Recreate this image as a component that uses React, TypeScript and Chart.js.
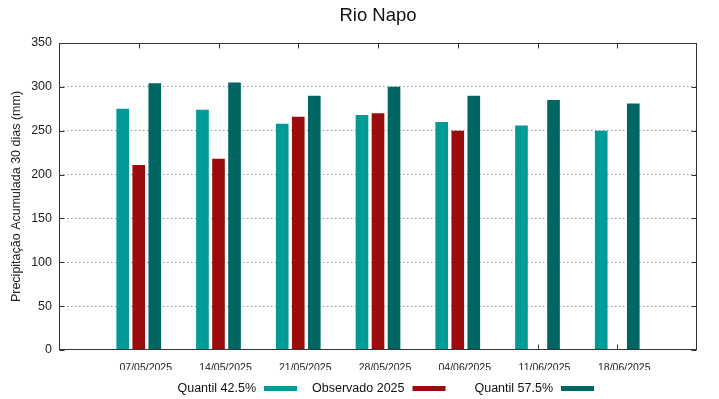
import { useEffect, useRef } from 'react';
import { Chart, registerables } from 'chart.js';

Chart.register(...registerables);

const chartTitle = 'Rio Napo';
const yAxisTitle = 'Precipitação Acumulada 30 dias (mm)';
const categories = ['07/05/2025', '14/05/2025', '21/05/2025', '28/05/2025', '04/06/2025', '11/06/2025', '18/06/2025'];
const quantil425 = [275, 274, 258, 268, 260, 256, 250];
const observado2025 = [211, 218, 266, 270, 250, null, null];
const quantil575 = [304, 305, 290, 300, 290, 285, 281];
const seriesNames = ['Quantil 42.5%', 'Observado 2025', 'Quantil 57.5%'];
const seriesColors = ['#009a97', '#9b0c0c', '#006663'];
const yTicks = [0, 50, 100, 150, 200, 250, 300, 350];

const FONT = "'Liberation Sans', Arial, sans-serif";

const pad = (arr: (number | null)[]) => [null, ...arr, null];

const decorPlugin = {
  id: 'decor',
  beforeDatasetsDraw(chart: any) {
    const { ctx, chartArea: a, scales } = chart;
    const x = scales.x;
    const y = scales.y;
    const L = Math.round(a.left) + 0.5;
    const R = Math.round(a.right) - 0.5;
    const T = Math.round(a.top) + 0.5;
    const B = Math.round(a.bottom) - 0.5;
    ctx.save();
    ctx.strokeStyle = '#333';
    ctx.lineWidth = 1;
    ctx.beginPath();
    for (const v of yTicks) {
      const py = Math.round(y.getPixelForValue(v)) + 0.5;
      ctx.moveTo(L, py); ctx.lineTo(L + 5, py);
      ctx.moveTo(R, py); ctx.lineTo(R - 5, py);
    }
    for (let i = 1; i <= categories.length; i++) {
      const px = Math.round(x.getPixelForValue(i)) + 0.5;
      ctx.moveTo(px, T); ctx.lineTo(px, T + 5);
      ctx.moveTo(px, B); ctx.lineTo(px, B - 5);
    }
    ctx.stroke();
    ctx.restore();
  },
  afterDraw(chart: any) {
    const { ctx, chartArea: a } = chart;
    const L = Math.round(a.left) + 0.5;
    const R = Math.round(a.right) - 0.5;
    const T = Math.round(a.top) + 0.5;
    const B = Math.round(a.bottom) - 0.5;
    ctx.save();
    ctx.strokeStyle = '#333';
    ctx.lineWidth = 1;
    ctx.strokeRect(L, T, R - L, B - T);

    const cx = (a.left + a.right) / 2;
    ctx.fillStyle = '#111';
    ctx.textBaseline = 'alphabetic';
    ctx.textAlign = 'center';
    ctx.font = `18.5px ${FONT}`;
    ctx.fillText(chartTitle, cx, 21);

    // legend: right-justified text followed by sample
    ctx.font = `12.5px ${FONT}`;
    ctx.textAlign = 'right';
    const colW = 148.5;
    chart.data.datasets.forEach((ds: any, i: number) => {
      const textRight = cx + (i - 1) * colW + 26.5;
      ctx.fillStyle = '#111';
      ctx.fillText(ds.label, textRight, 392);
      ctx.fillStyle = ds.backgroundColor;
      ctx.fillRect(textRight + 8, 386, 33, 5);
    });
    ctx.restore();
  },
};

export default function App() {
  const ref = useRef<HTMLCanvasElement | null>(null);

  useEffect(() => {
    if (!ref.current) return;
    document.body.style.margin = '0';
    Chart.defaults.font.family = FONT;
    const labels = ['', ...categories, ''];
    const seriesData = [quantil425, observado2025, quantil575];
    const chart = new Chart(ref.current, {
      type: 'bar',
      data: {
        labels,
        datasets: seriesNames.map((name, i) => ({
          label: name,
          data: pad(seriesData[i]),
          backgroundColor: seriesColors[i],
          borderWidth: 0,
          categoryPercentage: 0.603,
          barPercentage: 0.79,
        })),
      },
      options: {
        animation: false,
        responsive: false,
        devicePixelRatio: 1,
        layout: { padding: { top: 43, right: 22, bottom: 29, left: 0 } },
        plugins: {
          legend: { display: false },
          title: { display: false },
          tooltip: { enabled: false },
        },
        scales: {
          x: {
            type: 'category',
            offset: false,
            grid: { display: false, drawTicks: false },
            border: { display: false },
            ticks: {
              autoSkip: false,
              maxRotation: 0,
              minRotation: 0,
              padding: 12,
              labelOffset: 7,
              color: '#222',
              font: { size: 10.5, family: FONT },
            },
            afterFit: (s: any) => { s.height = 20; },
          },
          y: {
            min: 0,
            max: 350,
            grid: {
              drawTicks: false,
              lineWidth: 1,
              color: (c: any) =>
                c.tick && (c.tick.value === 0 || c.tick.value === 350) ? 'rgba(0,0,0,0)' : '#9a9a9a',
            },
            border: { display: false, dash: [1.5, 2.5] },
            ticks: {
              stepSize: 50,
              padding: 7,
              color: '#222',
              font: { size: 12.5, family: FONT },
            },
            title: {
              display: true,
              text: yAxisTitle,
              color: '#222',
              font: { size: 12.5, family: FONT },
              padding: { top: 9, bottom: 0 },
            },
            afterFit: (s: any) => { s.width = 59; },
          },
        },
      },
      plugins: [decorPlugin],
    } as any);
    return () => chart.destroy();
  }, []);

  return (
    <div style={{ position: 'absolute', left: 0, top: 0, width: 719, height: 399, background: '#fff' }}>
      <canvas ref={ref} width={719} height={399} style={{ width: 719, height: 399, display: 'block' }} />
    </div>
  );
}
